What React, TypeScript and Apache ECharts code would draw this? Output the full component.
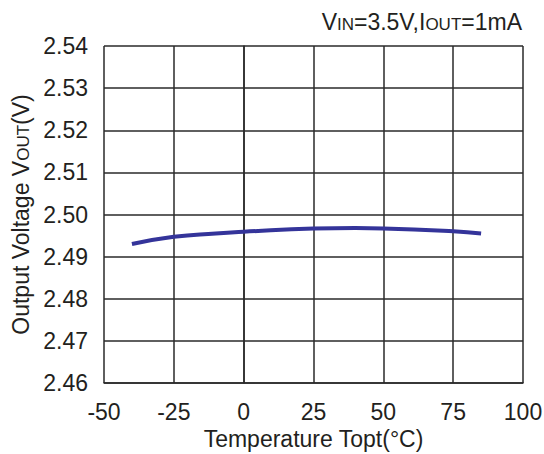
import React, { useEffect, useRef } from "react";
import * as echarts from "echarts";

const temperatures = [-40, -25, -10, 0, 25, 40, 50, 75, 85];
const vout = [2.493, 2.4947, 2.4955, 2.4959, 2.4967, 2.4968, 2.4967, 2.496, 2.4955];
const xTicks = { min: -50, max: 100, interval: 25 };
const yTicks = { min: 2.46, max: 2.54, interval: 0.01 };

const FONT = "'Liberation Sans', Arial, sans-serif";
const TXT = "#231f20";
const GRID = "#2a2a2a";

export default function App() {
  const ref = useRef<HTMLDivElement>(null);
  useEffect(() => {
    if (!ref.current) return;
    const chart = echarts.init(ref.current, undefined, { renderer: "svg" });
    chart.setOption({
      animation: false,
      backgroundColor: "#ffffff",
      title: {
        text: "{a|V}{s|IN}{a|=3.5V,I}{s|OUT}{a|=1mA}",
        right: 22,
        top: 10,
        padding: 0,
        textStyle: {
          fontFamily: FONT,
          fontWeight: "normal",
          rich: {
            a: { fontSize: 23, color: TXT, fontFamily: FONT, fontWeight: "normal", verticalAlign: "bottom" },
            s: { fontSize: 17, color: TXT, fontFamily: FONT, fontWeight: "normal", verticalAlign: "bottom" },
          },
        },
      },
      grid: {
        left: 104,
        right: 21,
        top: 46,
        bottom: 71,
        containLabel: false,
        outerBoundsMode: "none",
      },
      xAxis: {
        type: "value",
        min: xTicks.min,
        max: xTicks.max,
        interval: xTicks.interval,
        name: "Temperature Topt(°C)",
        nameLocation: "middle",
        nameGap: 41,
        nameTextStyle: { fontFamily: FONT, fontSize: 23, color: TXT },
        axisLine: { show: true, lineStyle: { color: GRID, width: 1.5 } },
        axisTick: { show: false },
        axisLabel: { fontFamily: FONT, fontSize: 23, color: TXT, margin: 17 },
        splitLine: { show: true, lineStyle: { color: GRID, width: 1.5 } },
      },
      yAxis: {
        type: "value",
        min: yTicks.min,
        max: yTicks.max,
        interval: yTicks.interval,
        name: "{a|Output Voltage V}{s|OUT}{a|(V)}",
        nameLocation: "middle",
        nameGap: 70,
        nameRotate: 90,
        nameTextStyle: {
          fontFamily: FONT,
          color: TXT,
          rich: {
            a: { fontSize: 23, color: TXT, fontFamily: FONT, verticalAlign: "bottom" },
            s: { fontSize: 17, color: TXT, fontFamily: FONT, verticalAlign: "bottom" },
          },
        },
        axisLine: { show: true, lineStyle: { color: GRID, width: 1.5 } },
        axisTick: { show: false },
        axisLabel: {
          fontFamily: FONT,
          fontSize: 23,
          color: TXT,
          margin: 16,
          formatter: (v: number) => v.toFixed(2),
        },
        splitLine: { show: true, lineStyle: { color: GRID, width: 1.5 } },
      },
      series: [
        {
          type: "line",
          data: temperatures.map((t, i) => [t, vout[i]]),
          smooth: true,
          showSymbol: false,
          lineStyle: { color: "#34349a", width: 4 },
        },
      ],
    });
    return () => chart.dispose();
  }, []);
  return (
    <div
      ref={ref}
      style={{ position: "fixed", left: 0, top: 0, width: 544, height: 454 }}
    />
  );
}
